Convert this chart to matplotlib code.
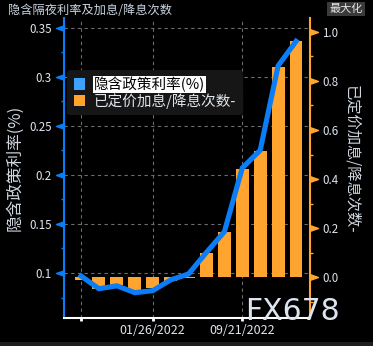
import matplotlib
matplotlib.use('Agg')
import matplotlib.pyplot as plt
import matplotlib.transforms as mtransforms
from matplotlib.patches import Patch, Rectangle
from matplotlib.path import Path
import numpy as np

plt.rcParams['font.family'] = ['Noto Sans CJK SC', 'DejaVu Sans']

# FOMC meetings, implied overnight rate and priced hikes/cuts
meetings = ['07/28/2021', '09/22/2021', '11/03/2021', '12/15/2021',
            '01/26/2022', '03/16/2022', '05/04/2022', '06/15/2022',
            '07/27/2022', '09/21/2022', '11/02/2022', '12/14/2022',
            '02/01/2023']
implied_rate = [0.097, 0.084, 0.087, 0.080, 0.082, 0.093, 0.099,
                0.121, 0.142, 0.207, 0.225, 0.311, 0.336]
hikes_priced = [-0.01, -0.049, -0.033, -0.06, -0.045, -0.015, -0.005,
                0.10, 0.184, 0.44, 0.514, 0.857, 0.965]
shown_dates = ['', '01/26/2022', '09/21/2022']

title = '隐含隔夜利率及加息/降息次数'
rate_label = '隐含政策利率(%)'
hikes_label = '已定价加息/降息次数-'

BLUE = '#0a7df7'
BLUE_LIGHT = '#40a0ff'
ORANGE = '#ffa42e'
TXT = '#dfe6ee'
GRID = '#6c6c6c'

fig = plt.figure(figsize=(3.73, 3.46), dpi=100, facecolor='black')
rect = [64 / 373, 28 / 346, 246 / 373, 300 / 346]

ax = fig.add_axes(rect)
ax.set_facecolor('black')
ax2 = ax.twinx()
ax_line = fig.add_axes(rect, sharex=ax)
ax_line.patch.set_visible(False)
ax_line.axis('off')

x = np.arange(len(meetings))
tick_idx = [meetings.index(d) if d else 0 for d in shown_dates]

# left axis: grid + ticks
ax.set_xlim(-0.95, 12.78)
ax.set_ylim(0.0542, 0.3597)
ax_line.set_ylim(0.0542, 0.3597)
left_major = np.arange(0.1, 0.351, 0.05)
left_minor = np.arange(0.075, 0.351, 0.05)
ax.set_yticks(left_major)
ax.set_yticklabels(['%g' % round(v, 2) for v in left_major])
ax.set_yticks(left_minor, minor=True)
ax.set_xticks(tick_idx)
ax.set_xticklabels(shown_dates)
ax.grid(True, which='major', color=GRID, linestyle=(0, (3, 3)), linewidth=0.8)
ax.tick_params(axis='y', which='major', length=0, pad=9, labelsize=8.3, labelcolor=TXT)
ax.tick_params(axis='y', which='minor', length=2.5, width=1, color=BLUE)
ax.tick_params(axis='x', length=2.5, width=2, color='white', labelsize=9, labelcolor=TXT, pad=2)
for s in ['top', 'right']:
    ax.spines[s].set_visible(False)
ax.spines['left'].set_color(BLUE)
ax.spines['left'].set_linewidth(1.5)
ax.spines['bottom'].set_color('white')
ax.spines['bottom'].set_linewidth(1.5)

# triangle markers on the spines for the major ticks
tri_left = Path([(0, 0.35), (0, -0.35), (-1, 0), (0, 0.35)])
tri_right = Path([(0, 0.35), (0, -0.35), (1, 0), (0, 0.35)])
tl = mtransforms.blended_transform_factory(ax.transAxes, ax.transData)
ax.plot(np.zeros(len(left_major)), left_major, linestyle='none', marker=tri_left,
        markersize=11.5, color=BLUE, transform=tl, clip_on=False)

# right axis: hikes / cuts bars
ax2.set_ylim(-0.167, 1.057)
right_major = np.arange(0, 1.01, 0.2)
right_minor = np.arange(-0.1, 1.01, 0.2)
ax2.set_yticks(right_major)
ax2.set_yticklabels(['%.1f' % v for v in right_major])
ax2.set_yticks(right_minor, minor=True)
ax2.tick_params(axis='y', which='major', length=0, pad=9, labelsize=8.3, labelcolor=TXT)
ax2.tick_params(axis='y', which='minor', length=2.5, width=1, color=ORANGE)
for s in ['top', 'left', 'bottom']:
    ax2.spines[s].set_visible(False)
ax2.spines['right'].set_color(ORANGE)
ax2.spines['right'].set_linewidth(1.5)
ax2.bar(x, hikes_priced, width=0.72, color=ORANGE, zorder=2)
tr = mtransforms.blended_transform_factory(ax2.transAxes, ax2.transData)
ax2.plot(np.ones(len(right_major)), right_major, linestyle='none', marker=tri_right,
         markersize=11.5, color=ORANGE, transform=tr, clip_on=False)

# implied rate line on top
ax_line.plot(x, implied_rate, color=BLUE, linewidth=3.7, solid_joinstyle='miter')

ax.set_ylabel(rate_label, fontsize=12, color='#cfd6df', va='center')
ax.yaxis.set_label_coords(-0.199, 0.5)
ax2.set_ylabel(hikes_label, fontsize=11, color='#cfd6df', rotation=270, va='center')
ax2.yaxis.set_label_coords(1.171, 0.53)

handles = [Patch(facecolor=BLUE_LIGHT, edgecolor='none'),
           Patch(facecolor=ORANGE, edgecolor='none')]
leg = ax_line.legend(handles, [rate_label, hikes_label], loc='upper left',
                     bbox_to_anchor=(0.012, 0.827), fontsize=10.5, frameon=True,
                     facecolor='#161616', edgecolor='none', framealpha=1,
                     handlelength=0.8, handleheight=0.8, handletextpad=0.6,
                     labelspacing=0.08, borderpad=0.45, borderaxespad=0,
                     fancybox=True)
leg.get_texts()[0].set_color('black')
leg.get_texts()[0].set_bbox(dict(facecolor='white', edgecolor='none', pad=0.5))
leg.get_texts()[1].set_color(TXT)

fig.text(8 / 373, 1 - 10 / 346, title, fontsize=8.8, color='#c9d3de', va='center', ha='left')
fig.text(346 / 373, 1 - 9 / 346, '最大化', fontsize=8, color='#e6e6e6', va='center', ha='center',
         bbox=dict(facecolor='#3a3a3a', edgecolor='none', pad=1.5))
fig.text(245 / 373, 26 / 346, 'FX678', fontsize=21.5, color='#dde4ee', ha='left',
         va='baseline', family='DejaVu Sans', zorder=10)
fig.patches.append(Rectangle((0, 0), 1, 4 / 346, transform=fig.transFigure,
                             facecolor='#1e1e1e', edgecolor='none'))

fig.savefig('out.png', dpi=100, facecolor='black')
